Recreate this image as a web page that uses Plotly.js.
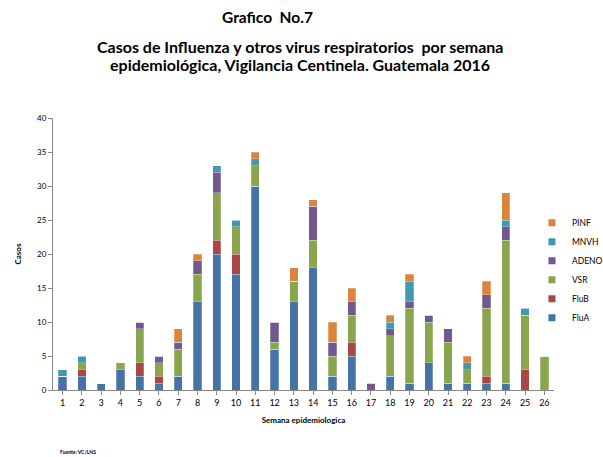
<!DOCTYPE html>
<html><head><meta charset="utf-8">
<script src="https://cdn.plot.ly/plotly-3.0.1.min.js"></script>
<style>body{margin:0;background:#fff}#c{width:603px;height:457px}</style>
</head><body><div id="c"></div>
<script>
const weeks = [1,2,3,4,5,6,7,8,9,10,11,12,13,14,15,16,17,18,19,20,21,22,23,24,25,26];
const FluA  = [2,2,1,3,2,1,2,13,20,17,30,6,13,18,2,5,0,2,1,4,1,1,1,1,0,0];
const FluB  = [0,1,0,0,2,1,0,0,2,3,0,0,0,0,0,2,0,0,0,0,0,0,1,0,3,0];
const VSR   = [0,1,0,1,5,2,4,4,7,4,3,1,3,4,3,4,0,6,11,6,6,2,10,21,8,5];
const ADENO = [0,0,0,0,1,1,1,2,3,0,0,3,0,5,2,2,1,1,1,1,2,0,2,2,0,0];
const MNVH  = [1,1,0,0,0,0,0,0,1,1,1,0,0,0,0,0,0,1,3,0,0,1,0,1,1,0];
const PINF  = [0,0,0,0,0,0,2,1,0,0,1,0,2,1,3,2,0,1,1,0,0,1,2,4,0,0];

const series = [
  {name:'FluA', y:FluA, color:'#4572A7'},
  {name:'FluB', y:FluB, color:'#AA4643'},
  {name:'VSR', y:VSR, color:'#89A54E'},
  {name:'ADENO', y:ADENO, color:'#71588F'},
  {name:'MNVH', y:MNVH, color:'#4198AF'},
  {name:'PINF', y:PINF, color:'#DB843D'}
];
const F = 'Lato, "Liberation Sans", sans-serif';
const bars = series.map(s => ({
  type:'bar', name:s.name, x:weeks, y:s.y, showlegend:false,
  marker:{color:s.color, line:{color:'rgba(255,255,255,0.5)', width:0.5}},
  hoverinfo:'none'
}));
const keys = series.map(s => ({
  type:'scatter', mode:'markers', name:s.name, x:[null], y:[null],
  marker:{symbol:'square', size:7, color:s.color}, hoverinfo:'none'
}));
const layout = {
  width:603, height:457,
  margin:{l:53, r:49, t:118, b:67, autoexpand:false},
  barmode:'stack', bargap:0.57,
  paper_bgcolor:'#fff', plot_bgcolor:'#fff',
  font:{family:F, color:'#000'},
  showlegend:true,
  legend:{traceorder:'reversed', x:0.956, xanchor:'left', y:0.44, yanchor:'middle',
          font:{size:8.5, family:F}, itemwidth:30, tracegroupgap:0, bgcolor:'rgba(0,0,0,0)'},
  xaxis:{range:[0.5,26.5], tickmode:'array', tickvals:weeks, ticktext:weeks.map(String),
         tickson:'boundaries', ticks:'outside', ticklen:4, tickcolor:'#888',
         showline:true, linecolor:'#888', linewidth:1, showgrid:false, zeroline:false,
         tickfont:{size:9, family:F},
         title:{text:'<b>Semana epidemiologica</b>', font:{size:8, family:F}, standoff:10}},
  yaxis:{range:[0,40], dtick:5, ticks:'outside', ticklen:4, tickcolor:'#888',
         showline:true, linecolor:'#888', linewidth:1, showgrid:false, zeroline:false,
         tickfont:{size:8, family:F},
         title:{text:'<b>Casos</b>', font:{size:8, family:F}, standoff:14}},
  annotations:[
    {text:'<b>Grafico  No.7</b>', xref:'paper', yref:'paper', x:(267-53)/501, y:1, xanchor:'center', yanchor:'middle',
     yshift:118-17, showarrow:false, font:{size:15.5, family:F}},
    {text:'<b>Casos de Influenza y otros virus respiratorios  por semana</b>', xref:'paper', yref:'paper', x:(300-53)/501, y:1, xanchor:'center', yanchor:'middle',
     yshift:118-46, showarrow:false, font:{size:16, family:F}},
    {text:'<b>epidemiológica, Vigilancia Centinela. Guatemala 2016</b>', xref:'paper', yref:'paper', x:(300-53)/501, y:1, xanchor:'center', yanchor:'middle',
     yshift:118-64, showarrow:false, font:{size:16, family:F}},
    {text:'<b>Fuente: VC/LNS</b>', xref:'paper', yref:'paper', x:(58-53)/501, y:0, xanchor:'left', yanchor:'middle',
     yshift:-(452-390), showarrow:false, font:{size:5, family:F}}
  ]
};
Plotly.newPlot('c', bars.concat(keys), layout, {displayModeBar:false, staticPlot:true});
</script></body></html>
